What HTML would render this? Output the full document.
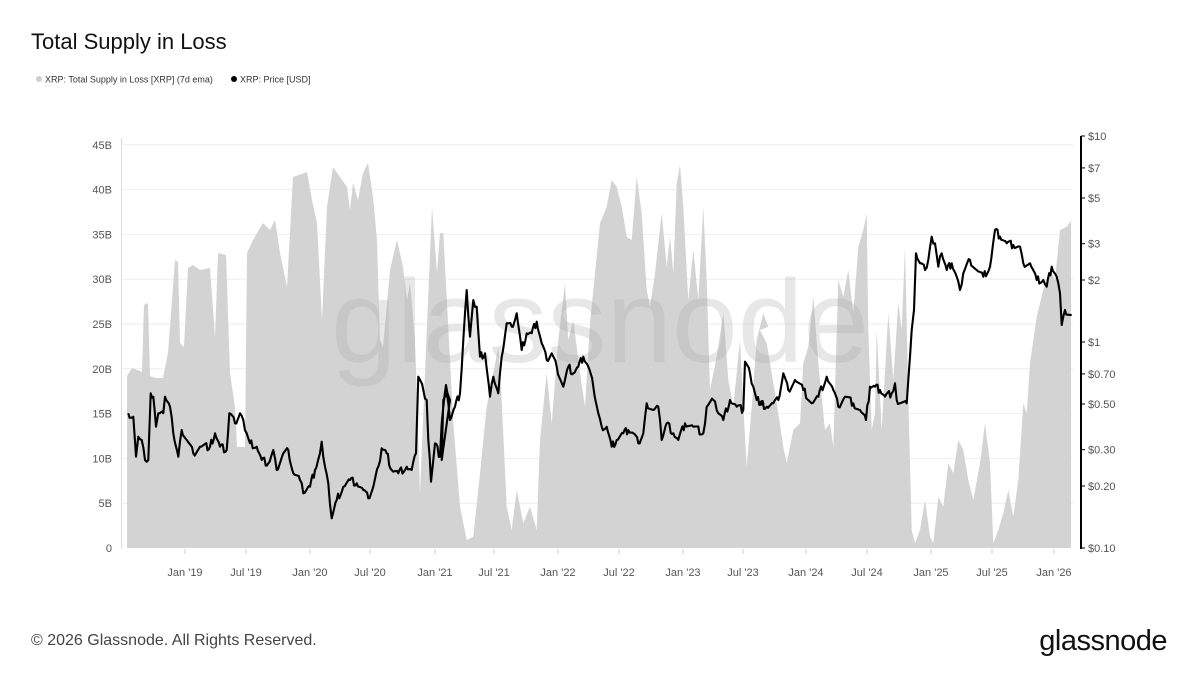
<!DOCTYPE html>
<html><head><meta charset="utf-8"><style>
body{margin:0;background:#fff;width:1200px;height:675px;overflow:hidden;font-family:"Liberation Sans",sans-serif;}
</style></head><body>
<svg id="s" width="1200" height="675" xmlns="http://www.w3.org/2000/svg" font-family="Liberation Sans, sans-serif">
<text x="31" y="49" font-size="22" fill="#111">Total Supply in Loss</text>
<circle cx="39" cy="79" r="3" fill="#d0d0d0"/><text x="45" y="82.5" font-size="9" fill="#333">XRP: Total Supply in Loss [XRP] (7d ema)</text>
<circle cx="234" cy="79" r="3" fill="#000"/><text x="240" y="82.5" font-size="9" fill="#333">XRP: Price [USD]</text>
<g id="grid" stroke="#eeeeee" stroke-width="1"></g>
<path id="area" fill="#d3d3d3"/>
<text x="600" y="362" font-size="118" fill="#a8a8a8" fill-opacity="0.28" text-anchor="middle">glassnode</text>
<polyline id="price" fill="none" stroke="#000" stroke-width="2.1" stroke-linejoin="round"/>
<line x1="121.5" y1="138" x2="121.5" y2="549" stroke="#ddd"/>
<line x1="1081" y1="136" x2="1081" y2="549" stroke="#000" stroke-width="2"/>
<g id="lab" font-size="11" fill="#555"></g>
<text x="31" y="645" font-size="16" fill="#444">© 2026 Glassnode. All Rights Reserved.</text>
<text x="1167" y="650" font-size="29" fill="#111" text-anchor="end" letter-spacing="-0.5">glassnode</text>
</svg>
<script>
var ns="http://www.w3.org/2000/svg",grid=document.getElementById('grid'),lab=document.getElementById('lab');
function el(p,t,a,txt){var e=document.createElementNS(ns,t);for(var k in a)e.setAttribute(k,a[k]);if(txt)e.textContent=txt;p.appendChild(e);return e;}
var ll=['0','5B','10B','15B','20B','25B','30B','35B','40B','45B'];
for(var i=0;i<10;i++){var y=548-i*44.8;if(i>0)el(grid,'line',{x1:122,x2:1073,y1:y,y2:y});el(lab,'text',{x:112,y:y+4,'text-anchor':'end'},ll[i]);}
var rl=[[10,'$10'],[7,'$7'],[5,'$5'],[3,'$3'],[2,'$2'],[1,'$1'],[0.7,'$0.70'],[0.5,'$0.50'],[0.3,'$0.30'],[0.2,'$0.20'],[0.1,'$0.10']];
rl.forEach(function(r){var y=342-Math.log10(r[0])*206;el(lab,'line',{x1:1081,x2:1085,y1:y,y2:y,stroke:'#000'});el(lab,'text',{x:1088,y:y+4},r[1]);});
var xl=[[185,"Jan '19"],[246,"Jul '19"],[310,"Jan '20"],[370,"Jul '20"],[435,"Jan '21"],[494,"Jul '21"],[558,"Jan '22"],[619,"Jul '22"],[683,"Jan '23"],[743,"Jul '23"],[806,"Jan '24"],[867,"Jul '24"],[931,"Jan '25"],[992,"Jul '25"],[1054,"Jan '26"]];
xl.forEach(function(r){el(lab,'line',{x1:r[0],x2:r[0],y1:549,y2:554,stroke:'#ccc'});el(lab,'text',{x:r[0],y:576,'text-anchor':'middle'},r[1]);});
var A1=[[127,376],[132,368],[142,372],[144,305],[148,303],[150,376],[156,378],[163,378],[168,353],[175,260],[178,262],[180,343],[184,347],[188,268],[193,265],[200,270],[210,268],[215,337],[218,253],[226,255],[230,373],[235,407],[237,447],[245,447],[247,253],[253,240],[263,223],[270,230],[275,220],[280,253],[287,287],[293,177],[307,172],[312,200],[317,223],[322,320],[327,207],[333,167],[340,177],[347,187],[350,210],[353,183],[358,200],[363,173],[368,163],[373,197],[377,240],[380,340],[383,347],[390,270],[397,240],[403,267],[407,300],[410,283],[415,340],[420,493],[425,373],[432,207],[437,273],[440,233]];
var Z2=[[10,280],[40,850],[60,1100],[80,1200],[100,1190],[120,1000],[140,800],[160,700],[175,620],[185,780],[200,1100],[215,1170],[230,1050],[250,1150],[270,1100],[290,1170],[300,900],[320,700],[335,850],[355,600],[375,430],[385,600],[400,540],[420,700],[435,800],[450,550],[465,400],[480,250],[500,200],[515,120],[530,140],[545,200],[560,290],[575,300],[590,110],[605,220],[620,450],[630,500],[645,400],[665,220],[680,380],[690,290],[700,400],[710,130],[720,75],[730,200],[745,480],[760,330],[775,480],[790,200],[800,420],[810,750],[830,650],[850,520],[865,720],[880,800],[900,600],[910,800],[920,980],[935,800],[950,600],[970,520],[985,560]];
var Z3=[[0,600],[20,640],[50,820],[70,950],[80,1000],[100,900],[120,880],[130,700],[145,650],[160,500],[175,700],[195,900],[210,880],[220,950],[235,450],[250,500],[265,420],[280,550],[295,350],[310,300],[320,250],[325,600],[335,900],[345,850],[350,600],[365,900],[385,550],[400,750],[415,520],[425,600],[435,350],[445,800],[455,1200],[465,1240],[480,1200],[495,1110],[510,1220],[520,1240],[535,1100],[550,1130],[565,1000],[580,1030],[595,930],[610,960],[625,1050],[640,1110],[660,1000],[675,880],[690,1000],[700,1240],[715,1200],[730,1150],[745,1080],[760,1160],[775,1050],[790,820],[800,850],[810,700],[830,560],[850,480],[870,420],[885,450],[900,300],[920,290],[935,270]];
var A=A1.concat(Z2.map(function(p){return[440+p[0]/3,140+p[1]/3]}),Z3.map(function(p){return[760+p[0]/3,130+p[1]/3]}));
A.push([1071,220]);
var d='M127,548 '+A.map(function(p){return'L'+p[0].toFixed(1)+','+p[1].toFixed(1)}).join(' ')+' L1071,548 Z';
document.getElementById('area').setAttribute('d',d);
var P1=[[25,820],[40,830],[48,950],[55,890],[65,900],[75,960],[85,960],[92,760],[100,770],[108,860],[115,820],[130,820],[135,770],[150,800],[160,880],[175,950],[185,870],[200,900],[220,940],[240,920],[270,920],[285,880],[300,920],[320,930],[328,820],[345,850],[360,820],[370,840],[380,880],[390,910],[410,920],[425,960],[445,970],[460,930],[470,990],[490,940],[505,930],[520,1000],[540,1020],[550,1060],[570,1040],[585,990],[600,940],[605,905],[615,980],[625,1030],[635,1135],[650,1080],[670,1040],[690,1020],[710,1030],[730,1050],[745,1075],[760,1040],[775,980],[785,925],[800,940],[815,990],[835,1000],[860,980],[875,990],[888,940],[895,710],[910,750],[920,780],[925,900],[933,1025],[945,910],[960,950],[965,850],[978,735],[990,780]];
var P2=[[5,960],[10,780],[20,760],[30,840],[45,800],[60,760],[70,600],[80,450],[90,590],[100,480],[110,500],[120,650],[135,640],[150,770],[160,710],[175,760],[185,650],[200,550],[215,560],[230,520],[245,630],[260,580],[275,580],[290,545],[305,610],[320,660],[335,640],[350,680],[370,740],[385,680],[400,700],[415,680],[430,650],[445,680],[460,740],[475,820],[485,860],[500,860],[515,920],[530,900],[550,880],[565,870],[580,880],[595,910],[610,880],[620,790],[640,810],[655,800],[665,900],[680,850],[700,880],[715,900],[735,850],[760,860],[790,880],[800,800],[820,780],[830,810],[850,840],[870,780],[890,800],[910,810],[915,665],[930,700],[940,740],[950,780],[970,790]];
var P3=[[0,820],[20,830],[40,820],[55,810],[70,730],[85,780],[105,750],[130,780],[155,820],[175,800],[200,740],[220,780],[235,830],[255,800],[280,820],[300,840],[318,870],[330,770],[345,770],[360,780],[375,800],[395,790],[405,760],[410,810],[440,820],[450,680],[455,600],[462,540],[468,370],[480,400],[495,420],[505,390],[515,320],[525,340],[535,410],[545,370],[560,420],[575,400],[590,440],[600,480],[610,430],[630,390],[650,420],[670,440],[690,410],[705,300],[720,320],[740,340],[760,345],[780,350],[790,400],[810,400],[830,450],[850,450],[860,470],[875,410],[890,440],[900,490],[905,585],[915,540],[935,555]];
var P=[].concat(P1.map(function(p){return[120+p[0]/3,140+p[1]/3]}),P2.map(function(p){return[440+p[0]/3,140+p[1]/3]}),P3.map(function(p){return[760+p[0]/3,130+p[1]/3]}));
var pts=[];for(var i=0;i<P.length;i++){pts.push(P[i]);if(i<P.length-1){var a=P[i],b=P[i+1];var n=Math.floor((b[0]-a[0])/1.2);for(var j=1;j<n;j++){var t=j/n;pts.push([a[0]+(b[0]-a[0])*t,a[1]+(b[1]-a[1])*t+(((i*31+j)*7919)%9-4)*0.9]);}}}
document.getElementById('price').setAttribute('points',pts.map(function(p){return p[0].toFixed(1)+','+p[1].toFixed(1)}).join(' '));
</script>
</body></html>
